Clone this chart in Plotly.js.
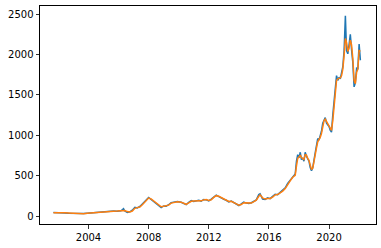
<!DOCTYPE html>
<html>
<head>
<meta charset="utf-8">
<script src="https://cdn.plot.ly/plotly-3.0.1.min.js"></script>
<style>html,body{margin:0;padding:0;background:#fff;}#chart{width:381px;height:248px;}</style>
</head>
<body>
<div id="chart"></div>
<script>
const dates = ["2001-09","2001-12","2002-03","2002-06","2002-09","2002-12","2003-03","2003-06","2003-09","2003-12",
"2004-03","2004-06","2004-09","2004-12","2005-03","2005-06","2005-09","2005-12","2006-03","2006-05",
"2006-06","2006-08","2006-10","2006-12","2007-02","2007-04","2007-06","2007-08","2007-10","2007-12",
"2008-01","2008-03","2008-05","2008-07","2008-09","2008-11","2009-01","2009-03","2009-05","2009-07",
"2009-09","2009-12","2010-03","2010-05","2010-07","2010-09","2010-11","2011-01","2011-03","2011-05",
"2011-07","2011-09","2011-11","2012-01","2012-03","2012-05","2012-07","2012-09","2012-11","2013-01",
"2013-03","2013-05","2013-07","2013-09","2013-11","2014-01","2014-03","2014-05","2014-07","2014-09",
"2014-11","2015-01","2015-03","2015-05","2015-06","2015-08","2015-10","2015-12","2016-02","2016-04",
"2016-06","2016-08","2016-10","2016-12","2017-02","2017-04","2017-06","2017-08","2017-10","2017-11",
"2017-12","2018-01","2018-02","2018-03","2018-04","2018-05","2018-06","2018-07","2018-08","2018-09",
"2018-10","2018-11","2018-12","2019-01","2019-02","2019-03","2019-04","2019-05","2019-06","2019-07",
"2019-08","2019-09","2019-10","2019-11","2019-12","2020-01","2020-02","2020-03","2020-04","2020-05",
"2020-06","2020-07","2020-08","2020-09","2020-10","2020-11","2020-12","2021-01","2021-02","2021-03",
"2021-04","2021-05","2021-06","2021-07","2021-08","2021-09","2021-10","2021-11","2021-12","2022-01","2022-02"];

const closePrice = [42,43,41,38,35,32,30,28,30,35,
40,44,47,50,53,58,62,60,65,90,
62,45,52,72,108,100,118,150,180,215,
230,205,180,160,135,105,125,120,140,165,
172,180,170,150,140,170,190,180,185,195,
185,205,200,188,210,240,258,240,220,208,
195,175,185,165,145,130,150,172,160,155,
165,185,200,265,275,210,205,225,215,245,
270,265,290,315,350,405,445,490,520,680,
760,720,790,700,720,680,790,740,700,680,
600,560,600,730,790,870,960,940,990,1050,
1150,1200,1220,1150,1130,1110,1060,1040,1250,1420,
1550,1740,1680,1720,1700,1760,1850,2050,2480,2050,
2010,2120,2250,2060,1900,1600,1650,1830,1820,2130,1930];

const movingAvg = [40,42,42,40,37,34,31,29,29,33,
38,42,46,49,52,56,60,61,62,70,
68,55,50,62,95,104,112,140,170,205,
222,212,188,165,142,115,120,125,135,160,
170,177,172,155,145,162,182,185,183,190,
188,200,203,193,202,230,252,245,228,212,
200,180,182,170,150,135,142,165,163,158,
160,178,195,245,262,225,210,218,218,235,
262,266,282,308,340,395,435,480,505,620,
715,730,755,725,715,700,760,755,715,690,
630,580,590,690,760,840,920,945,975,1020,
1110,1180,1200,1170,1140,1120,1080,1060,1180,1380,
1500,1680,1700,1710,1710,1740,1820,1990,2200,2150,
2040,2080,2180,2120,1950,1680,1640,1780,1820,2050,2040];

const yTicks = [0,500,1000,1500,2000,2500];
const xTickDates = ["2004-01-01","2008-01-01","2012-01-01","2016-01-01","2020-01-01"];
const xTickText = ["2004","2008","2012","2016","2020"];

const traces = [
  {x: dates, y: closePrice, type: 'scatter', mode: 'lines', line: {color: '#1f77b4', width: 1.5}, hoverinfo: 'skip'},
  {x: dates, y: movingAvg, type: 'scatter', mode: 'lines', line: {color: '#ff7f0e', width: 1.5}, hoverinfo: 'skip'}
];

const axisCommon = {
  showgrid: false, zeroline: false, showline: true, mirror: true,
  linecolor: '#000', linewidth: 1, ticks: 'outside', ticklen: 3.5, tickwidth: 0.8, tickcolor: '#000',
  tickfont: {family: 'DejaVu Sans', size: 10, color: '#000'}
};

const layout = {
  width: 381, height: 248,
  margin: {l: 40, r: 5, t: 6, b: 24},
  paper_bgcolor: '#fff', plot_bgcolor: '#fff',
  showlegend: false,
  xaxis: Object.assign({}, axisCommon, {type: 'date', range: ['2000-10-10', '2023-02-15'], tickvals: xTickDates, ticktext: xTickText}),
  yaxis: Object.assign({}, axisCommon, {range: [-99, 2602], tickvals: yTicks, ticktext: yTicks.map(String)})
};

Plotly.newPlot('chart', traces, layout, {staticPlot: true, displayModeBar: false});
</script>
</body>
</html>
